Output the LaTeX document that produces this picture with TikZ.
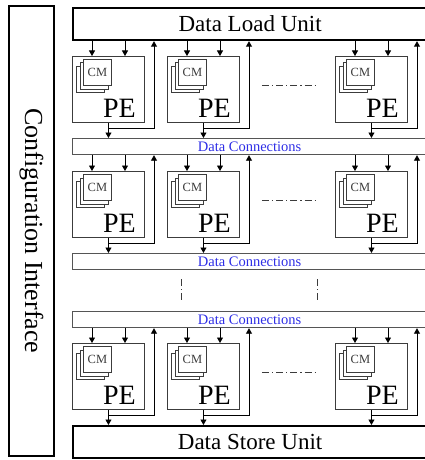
\documentclass[tikz,border=0pt]{standalone}
\usepackage{fontspec}
\setmainfont{Liberation Serif}
\usepackage{xcolor}
\usetikzlibrary{arrows.meta,positioning,calc}
\definecolor{edge}{HTML}{3C3C3C}
\definecolor{bus}{HTML}{555555}
\definecolor{linkblue}{HTML}{2E2EE6}

\begin{document}
\begin{tikzpicture}[x=1pt,y=-1pt,
  unit/.style={draw,line width=2.2pt,minimum width=354pt,minimum height=32pt,
               anchor=north west,inner sep=0pt,font=\fontsize{23}{25}\selectfont},
  conn/.style={draw=bus,line width=1.2pt,minimum width=354pt,minimum height=16pt,
               anchor=north west,inner sep=0pt,text=linkblue,font=\fontsize{14.5}{15}\selectfont},
  pebox/.style={draw=edge,line width=0.9pt,minimum width=72pt,minimum height=66pt,
               anchor=north west,inner sep=0pt},
  cmbox/.style={draw=edge,fill=white,line width=0.9pt,minimum width=28pt,minimum height=26pt,
               anchor=north west,inner sep=0pt,text=edge,font=\fontsize{12.5}{13}\selectfont},
  arr/.style={-{Triangle[length=5.5pt,width=6pt]},line width=0.9pt},
  gap/.style={edge,line width=0.9pt,dash pattern=on 7pt off 3pt on 1.2pt off 3pt}
]
\useasboundingbox (0,0) rectangle (424,460);
\node[draw,line width=1.8pt,rotate=-90,minimum width=450pt,minimum height=45pt,
      inner sep=0pt,font=\fontsize{26}{28}\selectfont] (conf) at (31.5,231) {Configuration Interface};
\node[unit] (load) at (72,7) {Data Load Unit};
\node[conn] (dc1) at (72,138) {Data Connections};
\node[conn] (dc2) at (72,253) {Data Connections};
\node[conn] (dc3) at (72,311) {Data Connections};
\node[unit] (store) at (72,425) {Data Store Unit};
% processing elements
\foreach \r/\y/\up/\dn in {1/56/load/dc1, 2/171/dc1/dc2, 3/343/dc3/store}{
  \foreach \c/\x in {1/72, 2/167, 3/335}{
    \node[pebox] (pe\r\c) at (\x,\y) {};
    \node[cmbox] at (\x+4,\y+10) {};
    \node[cmbox] at (\x+7.5,\y+6.5) {};
    \node[cmbox] (cm\r\c) at (\x+11,\y+3) {CM};
    \node[anchor=base east,inner sep=0pt,font=\fontsize{28}{30}\selectfont] at (\x+64,\y+61) {PE};
    \draw[arr] ([xshift=20pt]pe\r\c.north west |- \up.south) -- ([xshift=20pt]pe\r\c.north west);
    \draw[arr] ([xshift=53pt]pe\r\c.north west |- \up.south) -- ([xshift=53pt]pe\r\c.north west);
    \draw[arr] (pe\r\c.south) -- (pe\r\c.south |- \dn.north);
    \draw[arr] ([yshift=-6pt]pe\r\c.south) -| ([xshift=82pt]pe\r\c.north west |- \up.south);
  }
  \draw[gap] ([xshift=22pt,yshift=4pt]pe\r2.east) -- ([xshift=-18pt,yshift=4pt]pe\r3.west);
}
\draw[gap] ($(dc2.south west)+(109,9)$) -- ($(dc3.north west)+(109,-8)$);
\draw[gap] ($(dc2.south west)+(245,9)$) -- ($(dc3.north west)+(245,-8)$);
\end{tikzpicture}
\end{document}
